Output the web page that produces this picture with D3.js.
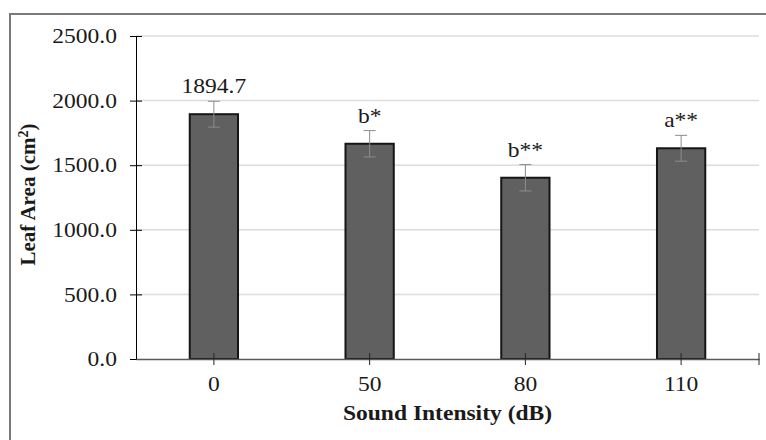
<!DOCTYPE html>
<html>
<head>
<meta charset="utf-8">
<script src="https://cdn.jsdelivr.net/npm/d3@7"></script>
<style>
  body { margin: 0; background: #fff; }
  text { font-family: "Liberation Serif", "Times New Roman", serif; fill: #1a1a1a; }
  .axisText { font-weight: bold; }
</style>
</head>
<body>
<div id="chart"></div>
<script>
// Leaf area by sound intensity - bar chart with error bars

var categories = ["0", "50", "80", "110"];
var leafArea = [1894.7, 1666, 1403, 1631];
var errorValues = [100, 102, 102, 100];
var barLabels = ["1894.7", "b*", "b**", "a**"];
var yTicks = [0, 500, 1000, 1500, 2000, 2500];

var svgWidth = 766;
var svgHeight = 440;

var margin = {
  top: 36,
  right: 7,
  bottom: 81,
  left: 136
};

var width = svgWidth - margin.left - margin.right;
var height = svgHeight - margin.top - margin.bottom;

var svg = d3.select("#chart")
  .append("svg")
  .attr("width", svgWidth)
  .attr("height", svgHeight);

// outer frame (only top and left edges show in the picture)
svg.append("path")
  .attr("d", "M10," + svgHeight + "V14H" + svgWidth)
  .attr("fill", "none")
  .attr("stroke", "#7a7a7a")
  .attr("stroke-width", 2);

var chartGroup = svg.append("g")
  .attr("transform", `translate(${margin.left}, ${margin.top})`);

// Step 1: scales
var xBandScale = d3.scaleBand()
  .domain(categories)
  .range([0, width])
  .paddingInner(0.69)
  .paddingOuter(0.345);

var yLinearScale = d3.scaleLinear()
  .domain([0, 2500])
  .range([height, 0]);

// Step 2: gridlines
chartGroup.append("g")
  .selectAll("line")
  .data(yTicks.slice(1))
  .enter()
  .append("line")
  .attr("x1", 0)
  .attr("x2", width)
  .attr("y1", d => yLinearScale(d))
  .attr("y2", d => yLinearScale(d))
  .attr("stroke", "#dcdcdc")
  .attr("stroke-width", 1.5);

// Step 3: bars
var data = categories.map(function(c, i) {
  return { cat: c, value: leafArea[i], err: errorValues[i], label: barLabels[i] };
});

chartGroup.selectAll(".bar")
  .data(data)
  .enter()
  .append("rect")
  .attr("class", "bar")
  .attr("x", d => xBandScale(d.cat))
  .attr("y", d => yLinearScale(d.value))
  .attr("width", xBandScale.bandwidth())
  .attr("height", d => height - yLinearScale(d.value))
  .attr("fill", "#606060")
  .attr("stroke", "#161616")
  .attr("stroke-width", 2);

// Step 4: error bars
var errGroup = chartGroup.selectAll(".err")
  .data(data)
  .enter()
  .append("g")
  .attr("class", "err")
  .attr("transform", d => `translate(${xBandScale(d.cat) + xBandScale.bandwidth() / 2}, 0)`);

errGroup.append("line")
  .attr("y1", d => yLinearScale(d.value - d.err))
  .attr("y2", d => yLinearScale(d.value + d.err))
  .attr("stroke", "#8c8c8c");

errGroup.append("line")
  .attr("x1", -6).attr("x2", 6)
  .attr("y1", d => yLinearScale(d.value + d.err))
  .attr("y2", d => yLinearScale(d.value + d.err))
  .attr("stroke", "#8c8c8c");

errGroup.append("line")
  .attr("x1", -6).attr("x2", 6)
  .attr("y1", d => yLinearScale(d.value - d.err))
  .attr("y2", d => yLinearScale(d.value - d.err))
  .attr("stroke", "#8c8c8c");

// bar labels
errGroup.append("text")
  .attr("class", "hText")
  .attr("text-anchor", "middle")
  .attr("y", d => yLinearScale(d.value + d.err) - 8)
  .style("font-size", "21px")
  .text(d => d.label);

// Step 5: axes
var leftAxis = d3.axisLeft(yLinearScale)
  .tickValues(yTicks)
  .tickFormat(d3.format(".1f"))
  .tickSizeOuter(0)
  .tickPadding(13);

var yAxisG = chartGroup.append("g").call(leftAxis);
yAxisG.select(".domain").attr("stroke", "#000");
yAxisG.selectAll(".tick line").attr("x1", -6).attr("x2", 6).attr("stroke", "#000");
yAxisG.selectAll(".tick text").attr("class", "hText").style("font-size", "21px");

var bottomAxis = d3.axisBottom(xBandScale)
  .tickSizeOuter(0)
  .tickPadding(11);

var xAxisG = chartGroup.append("g")
  .attr("transform", `translate(0, ${height})`)
  .call(bottomAxis);
xAxisG.select(".domain").attr("stroke", "#595959").attr("stroke-width", 1.5);
xAxisG.selectAll(".tick line").attr("y1", -6).attr("y2", 6).attr("stroke", "#262626");
xAxisG.selectAll(".tick text").attr("class", "hText").style("font-size", "21px");

// right end boundary tick
xAxisG.append("line")
  .attr("x1", xBandScale.range()[1])
  .attr("x2", xBandScale.range()[1])
  .attr("y1", -6)
  .attr("y2", 6)
  .attr("stroke", "#262626");

// Step 6: axis titles
chartGroup.append("text")
  .attr("transform", `translate(${-margin.left + 35}, ${height / 2 - 3}) rotate(-90)`)
  .attr("text-anchor", "middle")
  .attr("class", "axisText")
  .style("font-size", "21px")
  .call(function(t) {
    t.append("tspan").text("Leaf Area (cm");
    t.append("tspan").attr("dy", -7).style("font-size", "14px").text("2");
    t.append("tspan").attr("dy", 7).text(")");
  });

chartGroup.append("text")
  .attr("x", width / 2)
  .attr("y", height + 61)
  .attr("text-anchor", "middle")
  .attr("class", "axisText hText")
  .style("font-size", "21px")
  .text("Sound Intensity (dB)");

// the source picture is a little wider than tall, stretch horizontal text
svg.selectAll(".hText").each(function() {
  var w = this.getComputedTextLength();
  d3.select(this)
    .attr("textLength", w * 1.12)
    .attr("lengthAdjust", "spacingAndGlyphs");
});
</script>
</body>
</html>
